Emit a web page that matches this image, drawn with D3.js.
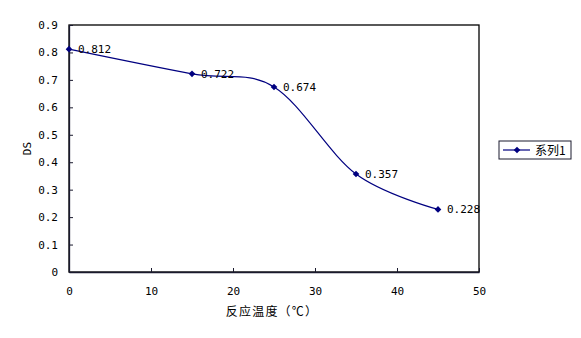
<!DOCTYPE html>
<html>
<head>
<meta charset="utf-8">
<script src="https://cdn.jsdelivr.net/npm/d3@7"></script>
<style>
  body { margin: 0; background: #fff; }
  text { font-family: "DejaVu Sans Mono", monospace; font-size: 11px; fill: #000; }
  .cjk { font-family: "Noto Sans CJK SC", sans-serif; font-size: 12px; }
</style>
</head>
<body>
<svg id="chart"></svg>
<script>
// Data
const temps = [0, 15, 25, 35, 45];
const dsValues = [0.812, 0.722, 0.674, 0.357, 0.228];
const xTicks = [0, 10, 20, 30, 40, 50];
const yTicks = [0, 0.1, 0.2, 0.3, 0.4, 0.5, 0.6, 0.7, 0.8, 0.9];
const seriesName = '系列1';

const width = 581;
const height = 338;
const plot = { left: 69, right: 479, top: 25, bottom: 272 };
const navy = '#000080';

const svg = d3.select('#chart')
  .attr('width', width)
  .attr('height', height);

const x = d3.scaleLinear().domain([0, 50]).range([plot.left, plot.right]);
const y = d3.scaleLinear().domain([0, 0.9]).range([plot.bottom, plot.top]);

// Plot frame
svg.append('rect')
  .attr('x', plot.left)
  .attr('y', plot.top)
  .attr('width', plot.right - plot.left)
  .attr('height', plot.bottom - plot.top)
  .attr('fill', 'none')
  .attr('stroke', '#000')
  .attr('stroke-width', 1.3);

// Axes (ticks point inside)
const xAxis = svg.append('g')
  .attr('transform', `translate(0,${plot.bottom})`)
  .call(d3.axisBottom(x).tickValues(xTicks).tickSizeInner(-4).tickSizeOuter(0).tickPadding(15).tickFormat(d3.format('d')));

const yAxis = svg.append('g')
  .attr('transform', `translate(${plot.left},0)`)
  .call(d3.axisLeft(y).tickValues(yTicks).tickSizeInner(-4).tickSizeOuter(0).tickPadding(11)
    .tickFormat(d => d === 0 ? '0' : d3.format('.1f')(d)));

[xAxis, yAxis].forEach(g => {
  g.select('.domain').attr('stroke', '#1a1a2e').attr('stroke-width', 1.3);
  g.selectAll('.tick line').attr('stroke', '#1a1a2e');
  g.selectAll('.tick text')
    .style('font-family', '"DejaVu Sans Mono", monospace')
    .style('font-size', '11px')
    .attr('fill', '#000');
});

// Axis titles
svg.append('text')
  .attr('class', 'cjk')
  .attr('x', (plot.left + plot.right) / 2 - 2)
  .attr('y', 316)
  .attr('text-anchor', 'middle')
  .style('letter-spacing', '1.2px')
  .text('反应温度（℃）');

svg.append('text')
  .attr('transform', `translate(31,${(plot.top + plot.bottom) / 2}) rotate(-90)`)
  .attr('text-anchor', 'middle')
  .style('font-size', '11px')
  .text('DS');

// Smoothed series line
const points = temps.map((t, i) => [t, dsValues[i]]);
const line = d3.line()
  .x(d => x(d[0]))
  .y(d => y(d[1]))
  .curve(d3.curveCardinal.tension(0));

svg.append('path')
  .datum(points)
  .attr('d', line)
  .attr('fill', 'none')
  .attr('stroke', navy)
  .attr('stroke-width', 1.2);

// Diamond markers (square turned 45 degrees)
const diamond = d3.symbol().type(d3.symbolSquare).size(22);
svg.selectAll('.marker')
  .data(points)
  .join('path')
  .attr('class', 'marker')
  .attr('transform', d => `translate(${x(d[0])},${y(d[1])}) rotate(45)`)
  .attr('d', diamond)
  .attr('fill', navy);

// Data labels
svg.selectAll('.label')
  .data(points)
  .join('text')
  .attr('class', 'label')
  .attr('x', d => x(d[0]) + 9)
  .attr('y', d => y(d[1]) + 4)
  .text(d => d3.format('.3f')(d[1]));

// Legend
const legend = svg.append('g').attr('transform', 'translate(499,141)');
legend.append('rect')
  .attr('width', 72)
  .attr('height', 18)
  .attr('fill', '#fff')
  .attr('stroke', '#1a1a2e')
  .attr('stroke-width', 1);
legend.append('line')
  .attr('x1', 4).attr('x2', 31)
  .attr('y1', 9).attr('y2', 9)
  .attr('stroke', navy)
  .attr('stroke-width', 1.2);
legend.append('path')
  .attr('transform', 'translate(18,9) rotate(45)')
  .attr('d', diamond)
  .attr('fill', navy);
legend.append('text')
  .attr('class', 'cjk')
  .attr('x', 36)
  .attr('y', 13.5)
  .text(seriesName);
</script>
</body>
</html>
